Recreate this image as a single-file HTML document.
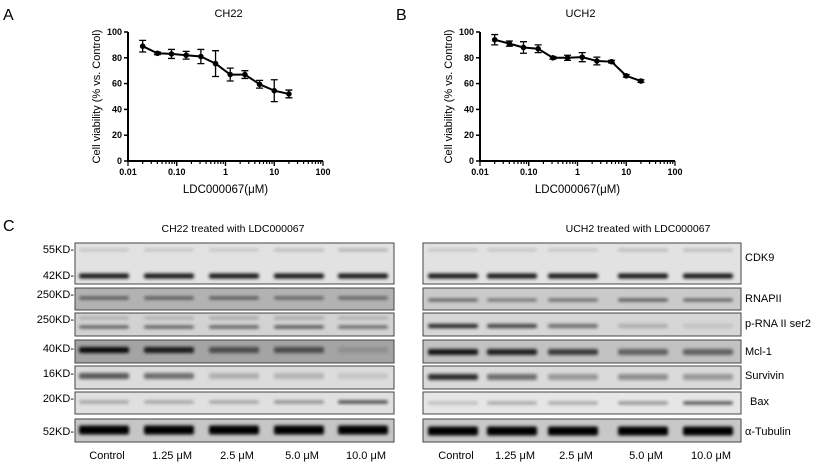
<!DOCTYPE html>
<html><head><meta charset="utf-8"><style>
html,body{margin:0;padding:0;background:#fff;}
svg{display:block;font-family:"Liberation Sans",Arial,sans-serif;}
</style></head><body>
<svg id="fig" width="824" height="464" viewBox="0 0 824 464" xmlns="http://www.w3.org/2000/svg">
<defs><filter id="blur" x="-20%" y="-150%" width="140%" height="400%"><feGaussianBlur stdDeviation="1.6"/></filter></defs>
<text x="3" y="20" font-size="16">A</text>
<text x="396" y="20" font-size="16">B</text>
<text x="3" y="231" font-size="16">C</text>
<g id="chartA"></g>
<g id="chartB"></g>
<g id="blots"></g>
</svg>
<script>
const doses = [0.02, 0.04, 0.078, 0.156, 0.3125, 0.625, 1.25, 2.5, 5, 10, 20];
const ch22Values = [89, 83.5, 83, 82, 81, 75.5, 67, 67, 59.5, 54.5, 52];
const ch22Errors = [4.5, 1, 3.5, 3, 5.5, 10, 5, 3, 3, 8.5, 3];
const uch2Values = [94, 91, 88, 87, 80, 80, 80.5, 77.5, 77, 66, 62];
const uch2Errors = [4, 2, 4.5, 3, 1, 2, 3.5, 3, 1, 1, 1];
const yTicks = [0, 20, 40, 60, 80, 100];
const xTickLabels = ["0.01", "0.10", "1", "10", "100"];
const xTickValues = [0.01, 0.1, 1, 10, 100];
const NS = "http://www.w3.org/2000/svg";
function mk(parent, tag, attrs, text){
  const e = document.createElementNS(NS, tag);
  for (const k in attrs) e.setAttribute(k, attrs[k]);
  if (text !== undefined) e.textContent = text;
  parent.appendChild(e); return e;
}
function drawChart(g, x0, x1, title, vals, errs){
  const y0 = 161, y1 = 32;
  const xs = v => x0 + (Math.log10(v) + 2) / 4 * (x1 - x0);
  const ys = v => y0 - v / 100 * (y0 - y1);
  let t = mk(g, "text", {x: (x0 + x1) / 2 + 3, y: 17, "font-size": 11, "text-anchor": "middle"}, title);
  
  
  let ax = mk(g, "path", {d: `M${x0},${y1}V${y0}H${x1}`, stroke: "#000", "stroke-width": 2, fill: "none"});
  
  
  yTicks.forEach(v => {
    mk(g, "line", {x1: x0 - 4, x2: x0, y1: ys(v), y2: ys(v), stroke: "#000", "stroke-width": 1.5});
    let l = mk(g, "text", {x: x0 - 6, y: ys(v) + 3, "font-size": 9, "font-weight": "bold", "text-anchor": "end"}, v);
    
    
  });
  for (let d = -2; d < 2; d++) for (let m = 1; m <= 10; m++) {
    const v = Math.pow(10, d) * m; const major = m === 1 || m === 10;
    mk(g, "line", {x1: xs(v), x2: xs(v), y1: y0, y2: y0 + (major ? 5 : 3), stroke: "#000", "stroke-width": 1.2});
  }
  xTickValues.forEach((v, i) => {
    let l = mk(g, "text", {x: xs(v), y: y0 + 14, "font-size": 9, "font-weight": "bold", "text-anchor": "middle"}, xTickLabels[i]);
    
    
  });
  let yl = mk(g, "text", {transform: `translate(${x0 - 28},${(y0 + y1) / 2}) rotate(-90)`, "font-size": 11, "text-anchor": "middle"}, "Cell viability (% vs. Control)");
  
  
  let xl = mk(g, "text", {x: (x0 + x1) / 2, y: 193, "font-size": 11.5, "text-anchor": "middle"}, "LDC000067(\u03bcM)");
  
  
  let pts = doses.map((d, i) => xs(d) + "," + ys(vals[i])).join(" ");
  let line = mk(g, "polyline", {points: pts, fill: "none", stroke: "#000", "stroke-width": 2});
  
  
  doses.forEach((d, i) => {
    const cx = xs(d), top = ys(vals[i] + errs[i]), bot = ys(vals[i] - errs[i]);
    let eb = mk(g, "path", {d: `M${cx},${top}V${bot}M${cx - 3.5},${top}H${cx + 3.5}M${cx - 3.5},${bot}H${cx + 3.5}`, stroke: "#000", "stroke-width": 1.3, fill: "none"});
    
    
    let p = mk(g, "circle", {cx: cx, cy: ys(vals[i]), r: 2.8, fill: "#000"});
    
    
  });
}
drawChart(document.getElementById("chartA"), 128, 323, "CH22", ch22Values, ch22Errors);
drawChart(document.getElementById("chartB"), 480, 675, "UCH2", uch2Values, uch2Errors);

const rowsY = [[243,284],[288,310],[313,336],[340,363],[366,389],[392,414],[419,442]];
const leftBg = ["#e2e2e2","#b2b2b2","#d2d2d2","#a4a4a4","#dcdcdc","#e0e0e0","#c6c6c6"];
const rightBg = ["#e2e2e2","#cacaca","#d6d6d6","#c2c2c2","#dadada","#e6e6e6","#c8c8c8"];
const leftBands = [
  [[250,2,[0.2,0.2,0.2,0.25,0.3]],[276,5,[0.9,0.9,0.9,0.9,0.9]]],
  [[298,3,[0.55,0.55,0.55,0.5,0.5]]],
  [[318,2,[0.25,0.25,0.3,0.3,0.25]],[327,3,[0.6,0.6,0.6,0.65,0.55]]],
  [[350,6,[0.95,0.85,0.55,0.55,0.12]]],
  [[376,6,[0.6,0.5,0.2,0.18,0.1]]],
  [[402,3,[0.3,0.3,0.3,0.4,0.75]]],
  [[430,9,[1,1,1,1,1]]]
];
const rightBands = [
  [[250,2,[0.2,0.2,0.2,0.25,0.25]],[276,5,[0.9,0.9,0.9,0.9,0.9]]],
  [[300,3,[0.55,0.45,0.5,0.6,0.55]]],
  [[326,4,[0.85,0.7,0.5,0.2,0.1]]],
  [[352,6,[0.9,0.85,0.7,0.5,0.5]]],
  [[377,6,[0.8,0.5,0.3,0.35,0.3]]],
  [[403,3,[0.2,0.3,0.3,0.4,0.7]]],
  [[431,9,[1,1,1,1,1]]]
];
const leftLanes = [104,169,234,299,363];
const rightLanes = [453,512,573,643,708];
const laneLabels = ["Control","1.25 \u03bcM","2.5 \u03bcM","5.0 \u03bcM","10.0 \u03bcM"];
const mwLabels = [["55KD-",253],["42KD-",279],["250KD-",298],["250KD-",323],["40KD-",352],["16KD-",377],["20KD-",402],["52KD-",435]];
const proteins = [["CDK9",261,745],["RNAPII",302,745],["p-RNA II ser2",327,745],["Mcl-1",355,745],["Survivin",379,745],["Bax",405,750],["\u03b1-Tubulin",435,745]];
const B = document.getElementById("blots");
function drawBlot(x0, x1, bgs, bands, lanes, title, tx){
  let t = mk(B, "text", {x: tx, y: 232, "font-size": 10.5, "text-anchor": "middle"}, title);
  
  
  rowsY.forEach((r, i) => {
    let bx = mk(B, "rect", {x: x0, y: r[0], width: x1 - x0, height: r[1] - r[0], fill: bgs[i], stroke: "#444", "stroke-width": 1});
    
    
    bands[i].forEach(b => {
      lanes.forEach((c, j) => {
        let band = mk(B, "rect", {x: c - 25, y: b[0] - b[1] / 2, width: 50, height: b[1], rx: 2, fill: "#000", opacity: b[2][j], filter: "url(#blur)"});
        
        
      });
    });
  });
  lanes.forEach((c, j) => {
    let l = mk(B, "text", {x: c + 3, y: 459, "font-size": 11, "text-anchor": "middle"}, laneLabels[j]);
    
    
  });
}
drawBlot(75, 394, leftBg, leftBands, leftLanes, "CH22 treated with LDC000067", 233);
drawBlot(423, 741, rightBg, rightBands, rightLanes, "UCH2 treated with LDC000067", 638);
mwLabels.forEach(m => {
  let l = mk(B, "text", {x: 74, y: m[1], "font-size": 11, "text-anchor": "end"}, m[0]);
  
  
});
proteins.forEach(p => {
  let l = mk(B, "text", {x: p[2], y: p[1], "font-size": 11}, p[0]);
  
  
});
</script>
</body></html>
